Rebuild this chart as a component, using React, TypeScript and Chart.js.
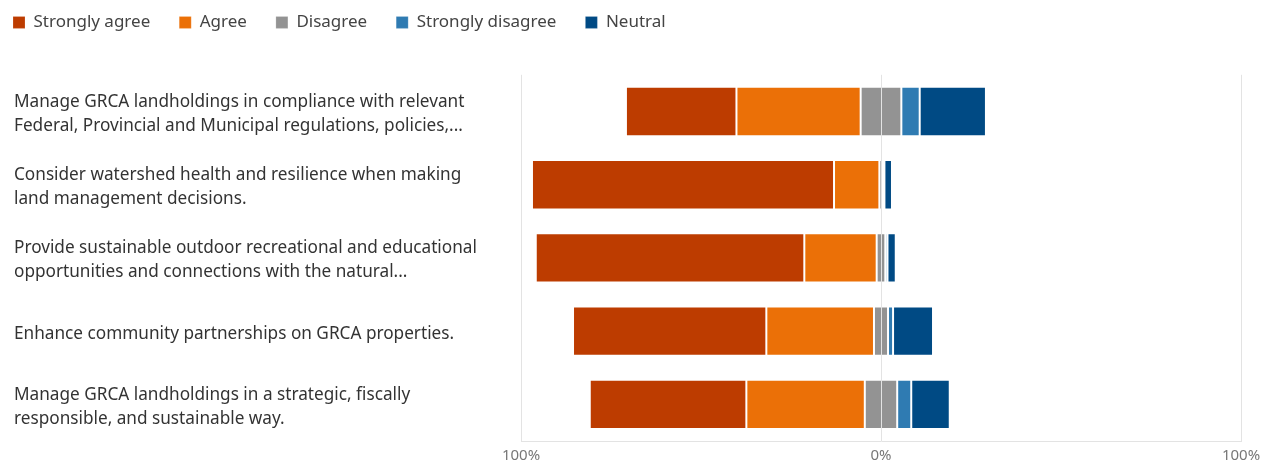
import React, { useEffect, useRef } from "react";
import { Chart, registerables } from "chart.js";

Chart.register(...registerables);

const categories: (string | string[])[] = [
  ["Manage GRCA landholdings in compliance with relevant", "Federal, Provincial and Municipal regulations, policies,..."],
  ["Consider watershed health and resilience when making", "land management decisions."],
  ["Provide sustainable outdoor recreational and educational", "opportunities and connections with the natural..."],
  "Enhance community partnerships on GRCA properties.",
  ["Manage GRCA landholdings in a strategic, fiscally", "responsible, and sustainable way."],
];

const seriesNames = ["Strongly agree", "Agree", "Disagree", "Strongly disagree", "Neutral"];
const stronglyAgree = [30.7, 83.9, 74.6, 53.7, 43.5];
const agree = [34.5, 12.6, 20.1, 29.9, 32.9];
const disagree = [11.3, 0.9, 2.4, 3.9, 9.0];
const stronglyDisagree = [5.1, 0.5, 0.6, 1.4, 3.9];
const neutral = [18.4, 2.1, 2.3, 11.1, 10.7];

const xTicks = [-100, 0, 100];

const colors = ["#BD3C00", "#EB7007", "#939393", "#2F7BB2", "#004A84"];

const FONT = "'Noto Sans', 'Open Sans', sans-serif";

// Diverging layout: "Disagree" centred on 0, agree categories to the left.
function buildRanges() {
  const series = [stronglyAgree, agree, disagree, stronglyDisagree, neutral];
  const out: [number, number][][] = series.map(() => []);
  for (let i = 0; i < categories.length; i++) {
    let x = -(stronglyAgree[i] + agree[i] + disagree[i] / 2);
    series.forEach((s, k) => {
      out[k].push([x, x + s[i]]);
      x += s[i];
    });
  }
  return out;
}

const LEG_PAD = 29;

const legendShift = {
  id: "legendShift",
  afterLayout(chart: any) {
    const l = chart.legend;
    if (!l) return;
    l.left = 5 - LEG_PAD;
    l.top = 14.5 - 8.6 - LEG_PAD;
  },
};

export default function App() {
  const ref = useRef<HTMLCanvasElement | null>(null);
  useEffect(() => {
    if (!ref.current) return;
    const ranges = buildRanges();
    const chart = new Chart(ref.current, {
      type: "bar",
      data: {
        labels: categories,
        datasets: seriesNames.map((name, k) => ({
          label: name,
          data: ranges[k],
          backgroundColor: colors[k],
          borderColor: "rgba(255,255,255,0.18)",
          borderWidth: 1,
          borderSkipped: false,
          grouped: false,
          barPercentage: 0.675,
          categoryPercentage: 1,
        })),
      },
      options: {
        indexAxis: "y",
        animation: false,
        responsive: false,
        layout: { padding: { left: 6, right: 21, top: 10.8, bottom: 0 } },
        plugins: {
          legend: {
            position: "top",
            align: "start",
            labels: {
              boxWidth: 12,
              boxHeight: 12,
              padding: LEG_PAD,
              color: "#444",
              font: { family: FONT, size: 17 },
            },
          },
          tooltip: { enabled: false },
        },
        scales: {
          x: {
            type: "linear",
            min: -100,
            max: 100,
            afterBuildTicks: (s: any) => {
              s.ticks = xTicks.map((v) => ({ value: v }));
            },
            afterFit: (s: any) => {
              s.height = 23;
              s.paddingLeft = 0;
              s.paddingRight = 0;
            },
            ticks: {
              padding: 6,
              color: "#777",
              font: { family: FONT, size: 15 },
              callback: (v: any) => Math.abs(Number(v)) + "%",
            },
            grid: { color: "#e3e3e3", drawTicks: false, z: 1 },
            border: { display: true, color: "#e3e3e3", z: 1 },
          },
          y: {
            type: "category",
            afterFit: (s: any) => {
              s.width = 507;
              s.paddingTop = 0;
              s.paddingBottom = 0;
            },
            ticks: {
              crossAlign: "far",
              labelOffset: 2.5,
              color: "#333",
              font: { family: FONT, size: 17.2, lineHeight: 1.4 },
            },
            grid: { display: false },
            border: { display: false },
          },
        },
      },
      plugins: [legendShift],
    } as any);
    return () => chart.destroy();
  }, []);
  return (
    <div style={{ width: 1254, height: 456 }}>
      <canvas ref={ref} width={1254} height={456} style={{ display: "block" }} />
    </div>
  );
}
